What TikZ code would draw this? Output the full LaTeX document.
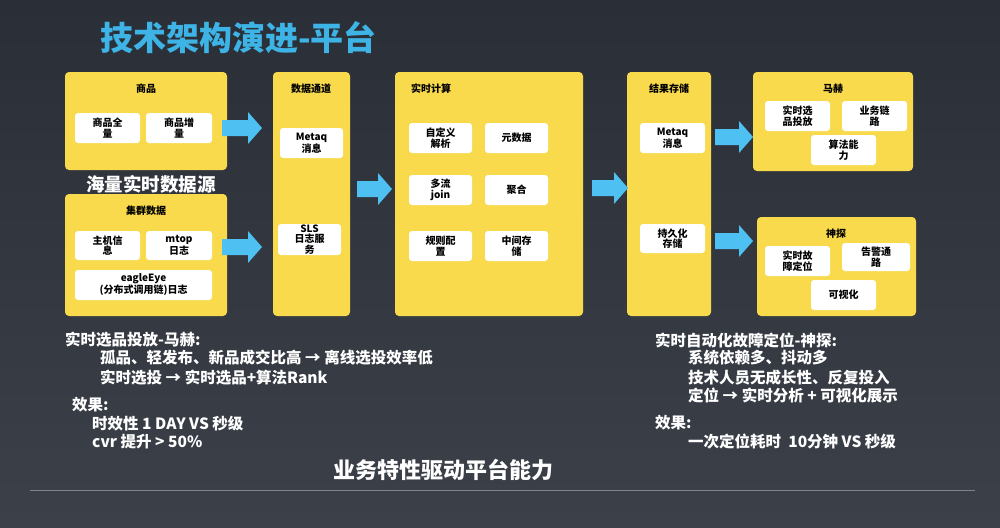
\documentclass[tikz,border=0pt]{standalone}
\usepackage{fontspec}
\setmainfont{Noto Sans CJK SC}
\usetikzlibrary{calc}
\definecolor{bgA}{HTML}{2A2F37}
\definecolor{bgB}{HTML}{3B4049}
\definecolor{ylw}{HTML}{F8DA4C}
\definecolor{blu}{HTML}{4EC0F2}
\definecolor{ttl}{HTML}{3DB3E6}
\tikzset{
  panel/.style={fill=ylw,rounded corners=4pt},
  cell/.style={fill=white,rounded corners=3pt},
  ctext/.style={font=\fontsize{10}{10.5}\selectfont\bfseries,align=center,text=black,inner sep=0pt},
  ptitle/.style={font=\fontsize{10}{10}\selectfont\bfseries,text=black,inner sep=0pt},
  wtext/.style={font=\fontsize{15.5}{16}\selectfont\bfseries,text=white,anchor=west,inner sep=0pt},
}
\newcommand\blockarrow[3]{% x1 x2 ycenter
  \fill[blu] (#1,#3-8) -- (#2-14,#3-8) -- (#2-14,#3-16) -- (#2,#3) -- (#2-14,#3+16) -- (#2-14,#3+8) -- (#1,#3+8) -- cycle;}
\newcommand\cellbox[6]{% name x1 y1 x2 y2 text
  \fill[cell] (#2,#3) rectangle (#4,#5);
  \node[ctext] (#1) at ({(#2+#4)/2},{(#3+#5)/2}) {#6};}
\begin{document}
\begin{tikzpicture}[x=1pt,y=-1pt]
\shade[top color=bgA,bottom color=bgB] (0,0) rectangle (1000,527);
\useasboundingbox (0,0) rectangle (1000,527);
\node[font=\fontsize{33}{33}\selectfont\bfseries,text=ttl,anchor=west,inner sep=0pt] (title) at (100,38) {技术架构演进-平台};
% panels
\fill[panel] (65,72) rectangle (227,170);
\node[ptitle] (pa) at (146,89) {商品};
\cellbox{a1}{75}{113}{140}{143}{商品全\\量}
\cellbox{a2}{146}{113}{212}{143}{商品增\\量}
\node[font=\fontsize{18.5}{18.5}\selectfont\bfseries,text=white,inner sep=0pt] (src) at (151,184) {海量实时数据源};
\fill[panel] (65,194) rectangle (227,316);
\node[ptitle] (pb) at (146,211) {集群数据};
\cellbox{b1}{75}{231}{140}{260}{主机信\\息}
\cellbox{b2}{146}{231}{212}{260}{mtop\\日志}
\cellbox{b3}{75}{270}{212}{300}{eagleEye\\(分布式调用链)日志}
\fill[panel] (273,72) rectangle (350,316);
\node[ptitle] (pc) at (311,89) {数据通道};
\cellbox{c1}{280}{128}{343}{158}{Metaq\\消息}
\cellbox{c2}{278}{224}{341}{255}{SLS\\日志服\\务}
\fill[panel] (395,72) rectangle (583,316);
\node[ptitle,anchor=west] (pd) at (411,89) {实时计算};
\cellbox{d1}{409}{123}{472}{153}{自定义\\解析}
\cellbox{d2}{485}{123}{548}{153}{元数据}
\cellbox{d3}{409}{175}{472}{205}{多流\\join}
\cellbox{d4}{485}{175}{548}{205}{聚合}
\cellbox{d5}{409}{231}{472}{261}{规则配\\置}
\cellbox{d6}{485}{231}{548}{261}{中间存\\储}
\fill[panel] (627,72) rectangle (711,316);
\node[ptitle] (pe) at (669,89) {结果存储};
\cellbox{e1}{640}{123}{705}{153}{Metaq\\消息}
\cellbox{e2}{640}{224}{705}{253}{持久化\\存储}
\fill[panel] (753,72) rectangle (913,171);
\node[ptitle] (pf) at (833,89) {马赫};
\cellbox{f1}{765}{101}{830}{131}{实时选\\品投放}
\cellbox{f2}{842}{101}{907}{131}{业务链\\路}
\cellbox{f3}{811}{135}{876}{165}{算法能\\力}
\fill[panel] (757,217) rectangle (916,316);
\node[ptitle] (pg) at (836,234) {神探};
\cellbox{g1}{765}{246}{830}{276}{实时故\\障定位}
\cellbox{g2}{842}{243}{910}{271}{告警通\\路}
\cellbox{g3}{811}{280}{876}{310}{可视化}
% arrows
\blockarrow{222}{262}{128}
\blockarrow{222}{262}{247}
\blockarrow{357}{392}{189}
\blockarrow{592}{628}{188}
\blockarrow{715}{753}{137}
\blockarrow{715}{753}{241}
% texts
\node[wtext] (t1) at (65,340) {实时选品投放-马赫:};
\node[wtext] (t2) at (100,358) {孤品、轻发布、新品成交比高 → 离线选投效率低};
\node[wtext] (t3) at (100,378) {实时选投 → 实时选品+算法Rank};
\node[wtext] (t4) at (72,405) {效果:};
\node[wtext] (t5) at (92,424) {时效性 1 DAY VS 秒级};
\node[wtext] (t6) at (92,442) {cvr 提升 > 50\%};
\node[font=\fontsize{22}{22}\selectfont\bfseries,text=white,inner sep=0pt] (t7) at (443,470) {业务特性驱动平台能力};
\node[wtext] (r1) at (655,340) {实时自动化故障定位-神探:};
\node[wtext] (r2) at (688,358) {系统依赖多、抖动多};
\node[wtext] (r3) at (688,378) {技术人员无成长性、反复投入};
\node[wtext] (r4) at (688,396) {定位 → 实时分析 + 可视化展示};
\node[wtext] (r5) at (655,423) {效果:};
\node[wtext] (r6) at (688,442) {一次定位耗时\ \ 10分钟 VS 秒级};
\draw[white!35!bgB,line width=0.8pt] (30,490) -- (975,490);
\end{tikzpicture}
\end{document}
